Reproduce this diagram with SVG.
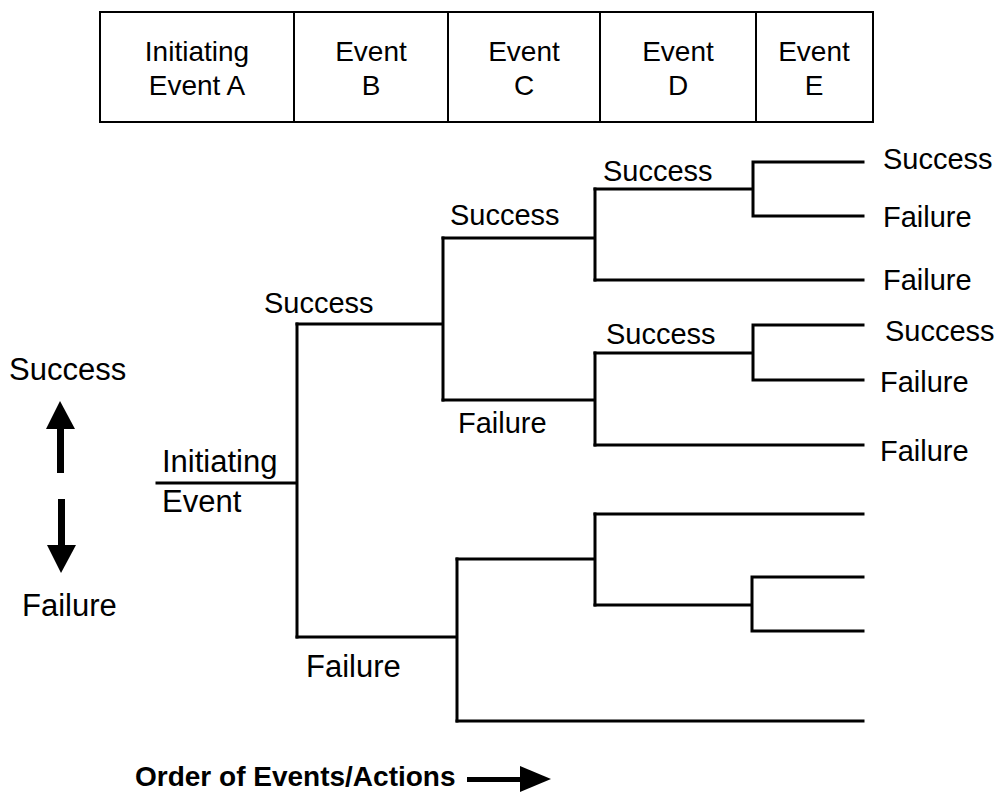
<svg xmlns="http://www.w3.org/2000/svg" width="998" height="795" viewBox="0 0 998 795">
  <style>
    .t { font-family: "Liberation Sans", Arial, sans-serif; fill: #000; }
    .hdr { font-size: 28px; text-anchor: middle; }
    .lbl { font-size: 29px; }
    .side { font-size: 31px; }
    .bold { font-size: 28px; font-weight: bold; }
    .ln { stroke: #000; stroke-width: 3; fill: none; stroke-linecap: square; }
    .box { stroke: #000; stroke-width: 2; fill: #fff; }
  </style>
  <rect width="998" height="795" fill="#fff"/>

  <!-- header row of event columns -->
  <g id="header">
    <rect class="box" x="100" y="12" width="773" height="110"/>
    <line class="box" x1="294" y1="12" x2="294" y2="122"/>
    <line class="box" x1="448" y1="12" x2="448" y2="122"/>
    <line class="box" x1="600" y1="12" x2="600" y2="122"/>
    <line class="box" x1="756" y1="12" x2="756" y2="122"/>
    <text class="t hdr" x="197" y="61">Initiating</text>
    <text class="t hdr" x="197" y="95">Event A</text>
    <text class="t hdr" x="371" y="61">Event</text>
    <text class="t hdr" x="371" y="95">B</text>
    <text class="t hdr" x="524" y="61">Event</text>
    <text class="t hdr" x="524" y="95">C</text>
    <text class="t hdr" x="678" y="61">Event</text>
    <text class="t hdr" x="678" y="95">D</text>
    <text class="t hdr" x="814" y="61">Event</text>
    <text class="t hdr" x="814" y="95">E</text>
  </g>

  <!-- success / failure direction key -->
  <g id="key">
    <text class="t side" x="9" y="380">Success</text>
    <rect x="57" y="428" width="7" height="45"/>
    <polygon points="60,401 46,429 75,429"/>
    <rect x="58" y="499" width="7" height="47"/>
    <polygon points="47,545 76,545 61,573"/>
    <text class="t side" x="22" y="616">Failure</text>
  </g>

  <!-- tree branches -->
  <g id="connectors">
    <path class="ln" d="M157,483 H297 M297,324 V637"/>
    <!-- upper half -->
    <path class="ln" d="M297,324 H443 M443,238 V400"/>
    <path class="ln" d="M443,238 H595 M595,189 V280"/>
    <path class="ln" d="M595,189 H753 M753,162 V216 M753,162 H863 M753,216 H863"/>
    <path class="ln" d="M595,280 H863"/>
    <path class="ln" d="M443,400 H595 M595,353 V445"/>
    <path class="ln" d="M595,353 H753 M753,325 V380 M753,325 H863 M753,380 H863"/>
    <path class="ln" d="M595,445 H863"/>
    <!-- lower half -->
    <path class="ln" d="M297,637 H457 M457,559 V721"/>
    <path class="ln" d="M457,559 H595 M595,514 V605"/>
    <path class="ln" d="M595,514 H863"/>
    <path class="ln" d="M595,605 H752 M752,577 V631 M752,577 H863 M752,631 H863"/>
    <path class="ln" d="M457,721 H863"/>
  </g>

  <g id="initiating-event">
    <text class="t side" x="162" y="472">Initiating</text>
    <text class="t side" x="162" y="512">Event</text>
  </g>

  <g id="branch-labels">
    <text class="t lbl" x="264" y="313">Success</text>
    <text class="t lbl" x="450" y="225">Success</text>
    <text class="t lbl" x="603" y="181">Success</text>
    <text class="t lbl" x="606" y="344">Success</text>
    <text class="t lbl" x="458" y="433">Failure</text>
    <text class="t side" x="306" y="677">Failure</text>
  </g>

  <g id="outcomes">
    <text class="t lbl" x="883" y="169">Success</text>
    <text class="t lbl" x="883" y="227">Failure</text>
    <text class="t lbl" x="883" y="290">Failure</text>
    <text class="t lbl" x="885" y="341">Success</text>
    <text class="t lbl" x="880" y="392">Failure</text>
    <text class="t lbl" x="880" y="461">Failure</text>
  </g>

  <!-- time axis -->
  <g id="order-axis">
    <text class="t bold" x="135" y="786">Order of Events/Actions</text>
    <rect x="467" y="777" width="54" height="5"/>
    <polygon points="520,766 551,779 520,792"/>
  </g>
</svg>
